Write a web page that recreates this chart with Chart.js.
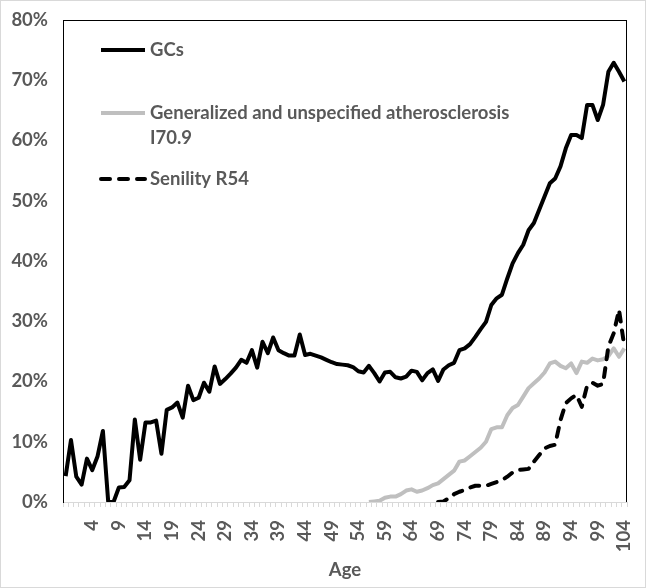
<!DOCTYPE html>
<html>
<head>
<meta charset="utf-8">
<script src="https://cdn.jsdelivr.net/npm/chart.js@4"></script>
<style>
    body { margin: 0; background: #fff; }
    #wrap { width: 644px; height: 586px; border: 1px solid #d9d9d9; }
    canvas { display: block; }
</style>
</head>
<body>
<div id="wrap"><canvas id="ageChart" width="644" height="586"></canvas></div>
<script>
// categories (first slot has an empty label)
const ages = ['', 0, 1, 2, 3, 4, 5, 6, 7, 8, 9, 10, 11, 12, 13, 14, 15, 16, 17, 18, 19,
    20, 21, 22, 23, 24, 25, 26, 27, 28, 29, 30, 31, 32, 33, 34, 35, 36, 37, 38, 39,
    40, 41, 42, 43, 44, 45, 46, 47, 48, 49, 50, 51, 52, 53, 54, 55, 56, 57, 58, 59,
    60, 61, 62, 63, 64, 65, 66, 67, 68, 69, 70, 71, 72, 73, 74, 75, 76, 77, 78, 79,
    80, 81, 82, 83, 84, 85, 86, 87, 88, 89, 90, 91, 92, 93, 94, 95, 96, 97, 98, 99,
    100, 101, 102, 103, 104];

// GCs (%)
const gcs = [4.3, 10.3, 4.2, 2.9, 7.2, 5.3, 7.6, 11.8, 0, 0,
    2.4, 2.5, 3.6, 13.7, 7.0, 13.2, 13.2, 13.5, 8.0, 15.3,
    15.7, 16.5, 14.0, 19.3, 16.9, 17.3, 19.8, 18.3, 22.5, 19.6,
    20.4, 21.3, 22.3, 23.6, 23.1, 25.2, 22.3, 26.6, 24.7, 27.3,
    25.2, 24.7, 24.3, 24.3, 27.8, 24.4, 24.6, 24.3, 24.0, 23.6,
    23.2, 22.9, 22.8, 22.7, 22.4, 21.7, 21.5, 22.6, 21.4, 20.0,
    21.5, 21.6, 20.7, 20.5, 20.8, 21.8, 21.6, 20.2, 21.4, 22.0,
    20.1, 22.0, 22.7, 23.1, 25.2, 25.5, 26.2, 27.4, 28.7, 29.9,
    32.7, 33.8, 34.4, 37.1, 39.6, 41.3, 42.7, 45.1, 46.3, 48.5,
    50.7, 52.9, 53.7, 55.7, 58.7, 60.9, 60.9, 60.4, 65.9, 65.9,
    63.4, 65.9, 71.4, 72.9, 71.4, 69.8];

// Generalized and unspecified atherosclerosis I70.9 (%)
const atherosclerosis = [null, null, null, null, null, null, null, null, null, null,
    null, null, null, null, null, null, null, null, null, null,
    null, null, null, null, null, null, null, null, null, null,
    null, null, null, null, null, null, null, null, null, null,
    null, null, null, null, null, null, null, null, null, null,
    null, null, null, null, null, null, null, 0.0, 0.1, 0.2,
    0.7, 0.9, 0.9, 1.3, 1.9, 2.1, 1.7, 1.9, 2.3, 2.8,
    3.1, 3.8, 4.5, 5.2, 6.7, 6.9, 7.6, 8.3, 9.0, 10.0,
    12.1, 12.4, 12.4, 14.4, 15.6, 16.1, 17.5, 18.9, 19.7, 20.5,
    21.5, 23.0, 23.3, 22.6, 22.2, 23.0, 21.4, 23.3, 23.1, 23.8,
    23.5, 23.7, 24.2, 25.5, 24.1, 25.5];

// Senility R54 (%)
const senility = [null, null, null, null, null, null, null, null, null, null,
    null, null, null, null, null, null, null, null, null, null,
    null, null, null, null, null, null, null, null, null, null,
    null, null, null, null, null, null, null, null, null, null,
    null, null, null, null, null, null, null, null, null, null,
    null, null, null, null, null, null, null, null, null, null,
    null, null, null, null, null, null, null, null, null, null,
    0, 0.1, 0.6, 1.3, 1.7, 2.0, 2.4, 2.7, 2.7, 2.7,
    3.0, 3.3, 3.6, 4.2, 4.9, 5.3, 5.4, 5.5, 6.7, 7.8,
    8.9, 9.3, 9.5, 13.6, 16.4, 17.2, 17.8, 15.8, 19.3, 19.8,
    19.3, 19.6, 25.8, 28.0, 31.9, 25.8];

const textGray = '#595959';
const fontFamily = 'Lato, "Open Sans", sans-serif';
const fontSize = 18.5;

// legend drawn inside the plot area, plus the top/right edges of the plot box
const boxLegend = {
    id: 'boxLegend',
    afterDraw(chart) {
        const { ctx, chartArea: a } = chart;
        ctx.save();
        ctx.fillStyle = '#000000';
        ctx.fillRect(Math.round(a.left), Math.round(a.top), Math.round(a.right - a.left), 1);
        ctx.fillRect(Math.round(a.right) - 1, Math.round(a.top), 1, Math.round(a.bottom - a.top));

        const rows = [30, 93, 159];
        ctx.font = `bold ${fontSize}px ${fontFamily}`;
        ctx.textBaseline = 'middle';
        chart.data.datasets.forEach((ds, i) => {
            const y = a.top + rows[i];
            ctx.beginPath();
            ctx.strokeStyle = ds.borderColor;
            ctx.lineWidth = 4;
            ctx.lineCap = ds.borderDash ? 'round' : 'butt';
            ctx.setLineDash(ds.borderDash || []);
            ctx.moveTo(a.left + 38, y);
            ctx.lineTo(a.left + 82, y);
            ctx.stroke();
            ctx.setLineDash([]);

            // wrap long labels
            ctx.fillStyle = textGray;
            const words = ds.label.split(' ');
            let line = '';
            let lineY = y;
            words.forEach(w => {
                const test = line ? line + ' ' + w : w;
                if (ctx.measureText(test).width > 380 && line) {
                    ctx.fillText(line, a.left + 87, lineY);
                    line = w;
                    lineY += 25;
                } else {
                    line = test;
                }
            });
            ctx.fillText(line, a.left + 87, lineY);
        });
        ctx.restore();
    }
};

new Chart(document.getElementById('ageChart'), {
    type: 'line',
    data: {
        labels: ages,
        datasets: [
            {
                label: 'GCs',
                data: gcs,
                borderColor: '#000000',
                borderWidth: 4,
                order: 2
            },
            {
                label: 'Generalized and unspecified atherosclerosis I70.9',
                data: atherosclerosis,
                borderColor: '#bfbfbf',
                borderWidth: 4,
                order: 1
            },
            {
                label: 'Senility R54',
                data: senility,
                borderColor: '#000000',
                borderWidth: 4,
                borderDash: [9, 9],
                borderCapStyle: 'round',
                order: 0
            }
        ]
    },
    options: {
        responsive: false,
        animation: false,
        layout: { padding: { top: 19, right: 18, left: 0, bottom: 0 } },
        elements: {
            point: { radius: 0 },
            line: { tension: 0, borderJoinStyle: 'round', fill: false }
        },
        plugins: {
            legend: { display: false },
            tooltip: { enabled: false }
        },
        scales: {
            x: {
                type: 'category',
                offset: true,
                grid: {
                    offset: true,
                    drawOnChartArea: false,
                    drawTicks: true,
                    tickLength: 5,
                    color: '#d9d9d9'
                },
                border: { color: '#d9d9d9' },
                ticks: {
                    autoSkip: false,
                    minRotation: 90,
                    maxRotation: 90,
                    padding: 13,
                    color: textGray,
                    font: { family: fontFamily, size: fontSize, weight: 'bold' },
                    callback: (v, i) => (i % 5 === 0 ? ages[i] : '')
                },
                title: {
                    display: true,
                    text: 'Age',
                    color: textGray,
                    font: { family: fontFamily, size: fontSize, weight: 'bold' },
                    padding: { top: 0, bottom: 6 }
                },
                afterFit: scale => {
                    scale.height = 85;
                    scale.paddingLeft = 0;
                    scale.paddingRight = 0;
                }
            },
            y: {
                min: 0,
                max: 80,
                grid: { display: false, drawTicks: false },
                border: { color: '#000000', width: 1 },
                ticks: {
                    stepSize: 10,
                    padding: 15,
                    color: textGray,
                    font: { family: fontFamily, size: fontSize, weight: 'bold' },
                    callback: v => v + '%'
                },
                afterFit: scale => {
                    scale.width = 62;
                    scale.paddingTop = 0;
                    scale.paddingBottom = 0;
                }
            }
        }
    },
    plugins: [boxLegend]
});
</script>
</body>
</html>
